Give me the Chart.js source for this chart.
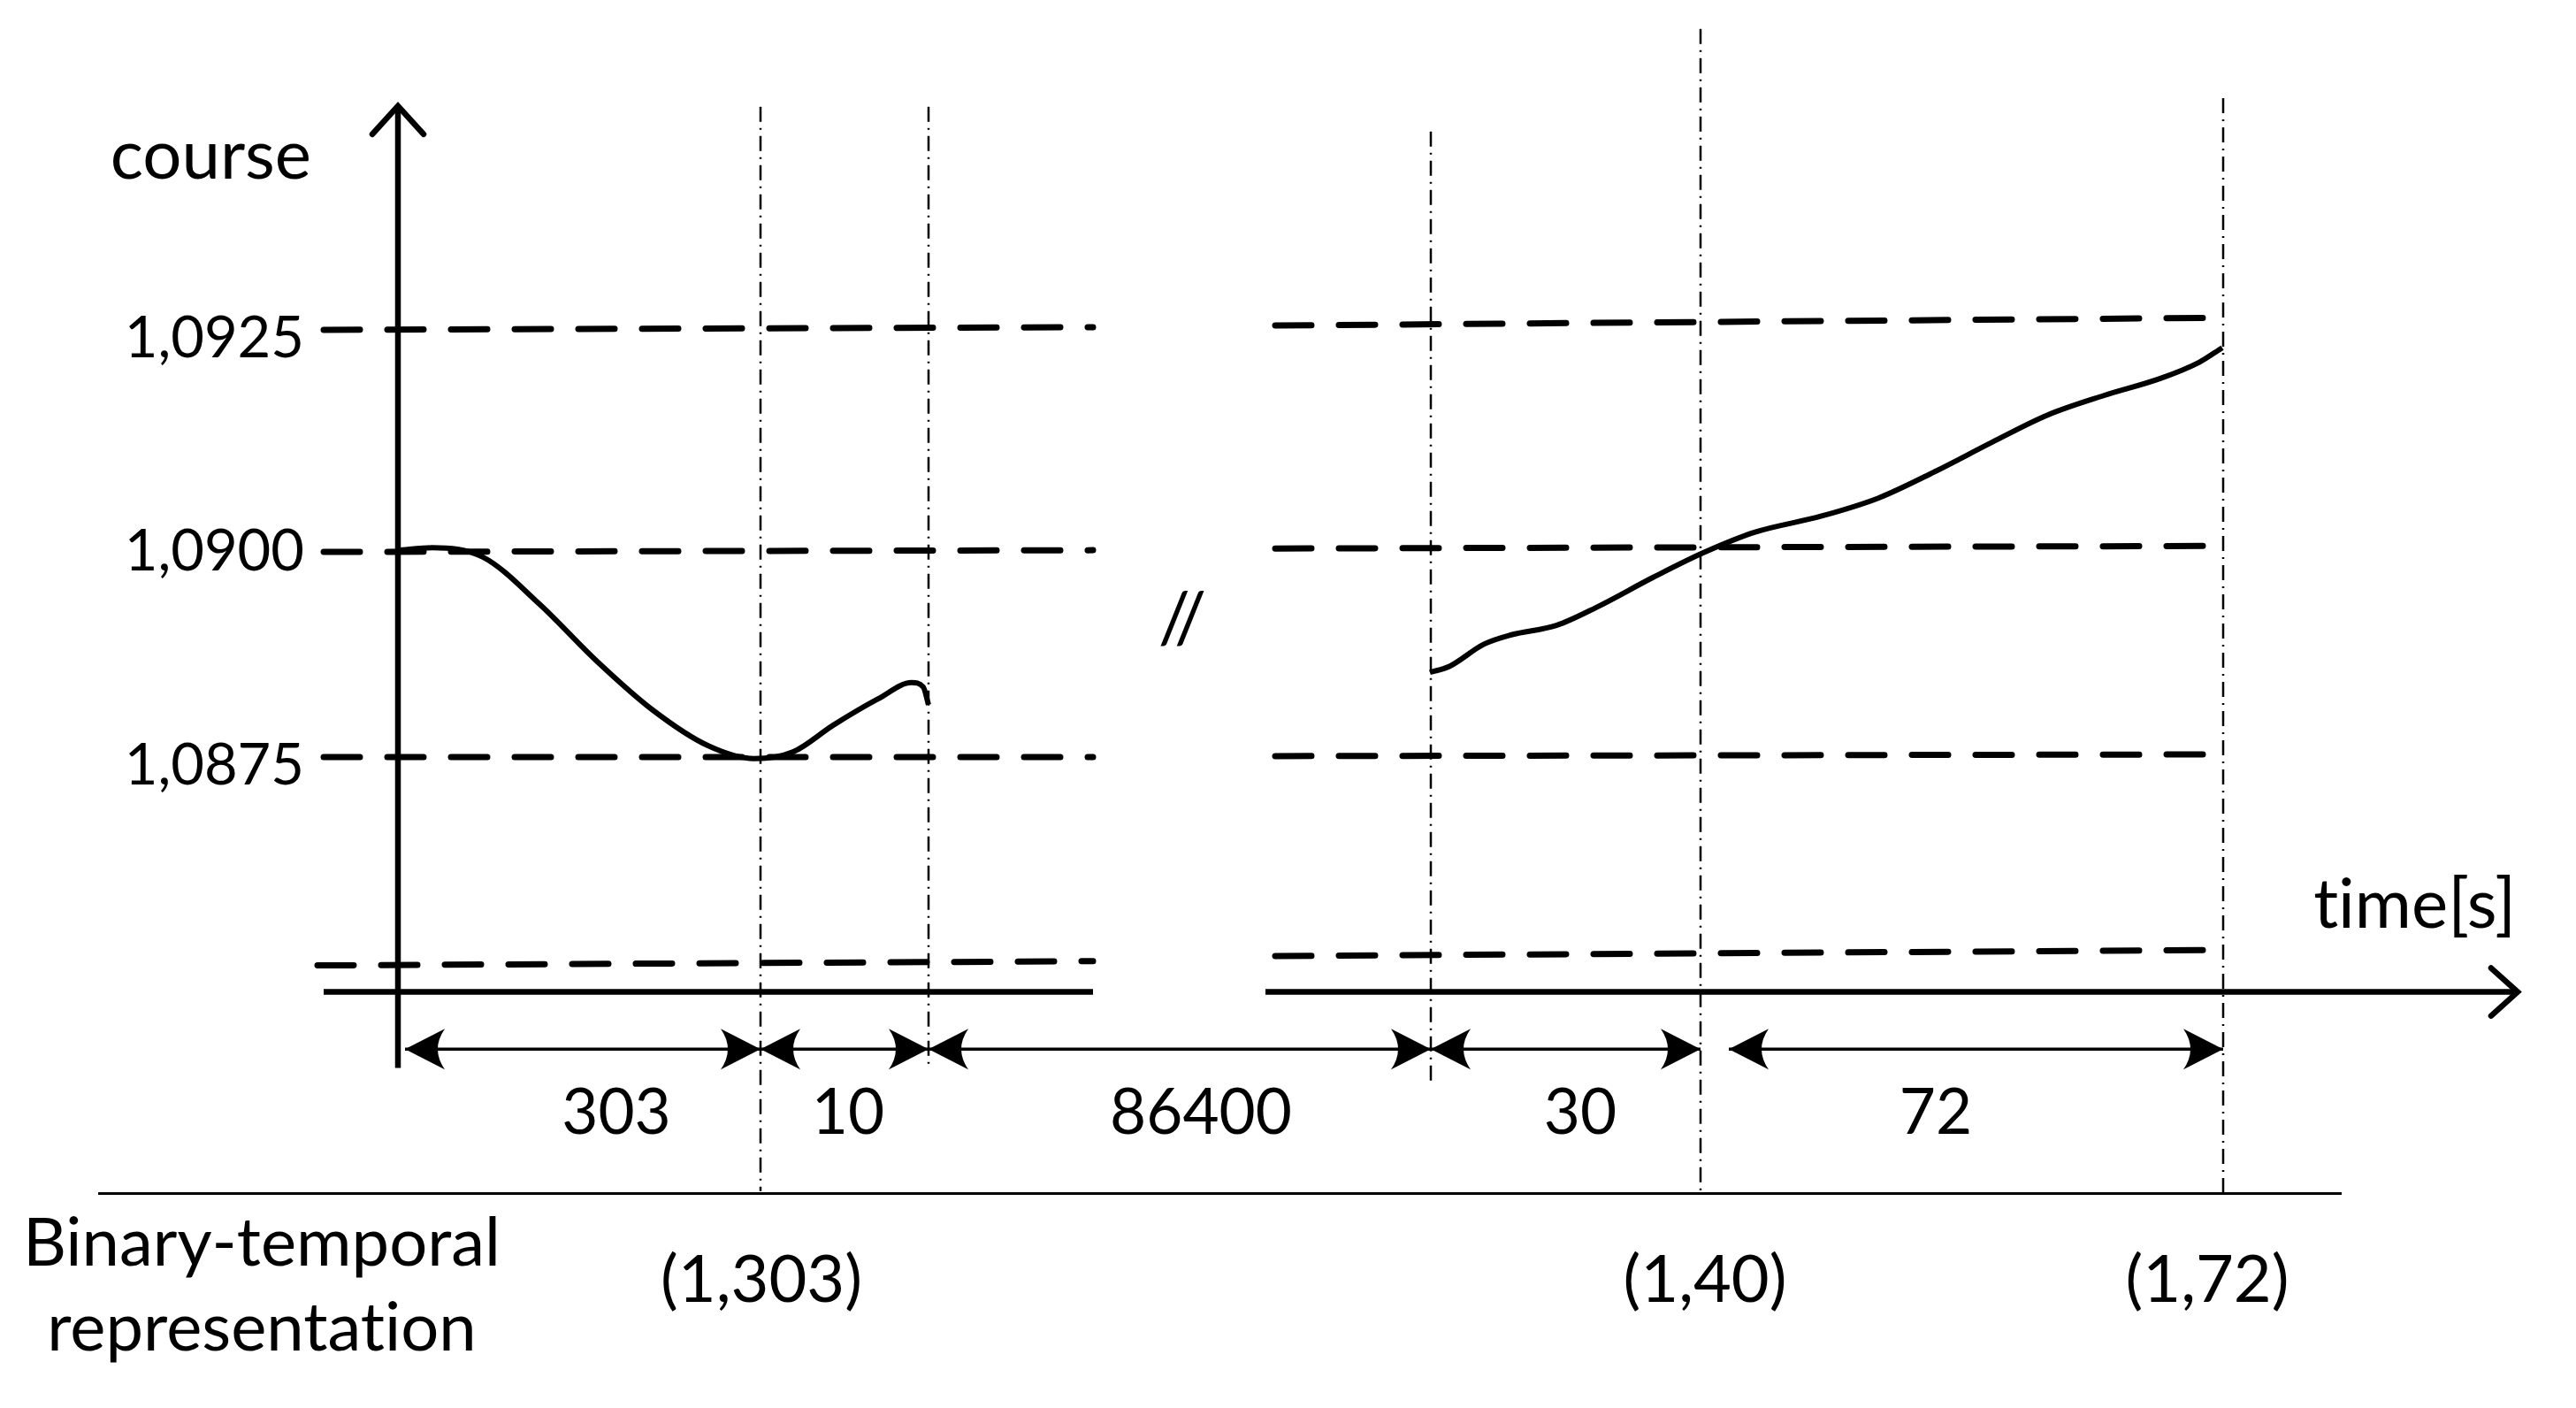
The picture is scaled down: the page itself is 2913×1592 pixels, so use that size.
<!DOCTYPE html>
<html>
<head>
<meta charset="utf-8">
<script src="https://cdn.jsdelivr.net/npm/chart.js@4.4.1/dist/chart.umd.min.js"></script>
<style>
  html, body { margin: 0; padding: 0; background: #fff; }
  #wrap { width: 2913px; height: 1592px; position: relative; }
</style>
</head>
<body>
<div id="wrap"><canvas id="chart"></canvas></div>
<script>
// x is the schematic position along the drawn time axis (not proportional to seconds)
const yTicks = [1.0925, 1.0900, 1.0875];
const tickLabels = ['1,0925', '1,0900', '1,0875'];

// course before the break (303 s + 10 s)
const leftTime = [0, 3.9, 9.6, 16, 22.4, 28.8, 35.1, 40.3, 44.7, 49.2, 54.3, 58.1, 59.4, 60];
const leftCourse = [1.08995, 1.08998, 1.08987, 1.08932, 1.08866, 1.08808, 1.08766, 1.08751, 1.08759, 1.08790, 1.08821, 1.08840, 1.08835, 1.08814];

// course after the break (30 s + 72 s)
const rightTime = [116.7, 118.9, 122.8, 125.9, 131, 135.5, 141.9, 147.6, 153.4, 161, 167.4, 173.8, 180.2, 186.5, 192.9, 199.3, 203.7, 206.3];
const rightCourse = [1.08852, 1.08859, 1.08885, 1.08896, 1.08907, 1.08928, 1.08963, 1.08992, 1.09016, 1.09035, 1.09056, 1.09087, 1.09121, 1.09153, 1.09176, 1.09196, 1.09215, 1.09232];

// dashed levels (hand drawn, so they drift a little)
const levelLeftX = [-8.4, 78.6];
const levelRightX = [99.2, 205.5];
const levelLeftFrom = [1.09253, 1.08993, 1.08753, 1.08509];
const levelLeftTo = [1.09256, 1.08995, 1.08753, 1.08514];
const levelRightFrom = [1.09258, 1.08997, 1.08754, 1.08520];
const levelRightTo = [1.09267, 1.09000, 1.08756, 1.08527];

// event marks (dash-dot verticals)
const markerX = [41, 60, 116.8, 147.3, 206.4];
const markerTop = [1.09514, 1.09514, 1.09485, 1.09605, 1.09524];
const markerBottom = [1.08245, 1.08389, 1.08370, 1.08245, 1.08241];

// axes
const courseAxisTop = 1.09515;
const courseAxisBottom = 1.08389;
const timeAxisLevel = 1.08478;
const timeAxisLeft = [-8.4, 78.6];
const timeAxisRight = [98.1, 239.7];

// durations between events
const spanLevel = 1.08411;
const spanFrom = [0.8, 41, 60, 116.8, 150.5];
const spanTo = [41, 60, 116.8, 147.3, 206.4];
const spanLabels = ['303', '10', '86400', '30', '72'];
const spanLabelAt = [24.7, 50.9, 90.8, 133.7, 173.9];

// binary-temporal row
const separatorLevel = 1.08242;
const separatorX = [-33.9, 219.8];
const binaryLabels = ['(1,303)', '(1,40)', '(1,72)'];
const binaryLabelAt = [41.1, 147.8, 204.6];

const FONT = 'Lato, "Open Sans", sans-serif';
const NOLIG = '\u200C'; // keeps "ti" from turning into a ligature

const line = (pts, width, extra) => ({
  data: pts,
  borderColor: '#000',
  borderWidth: width,
  pointRadius: 0,
  fill: false,
  clip: false,
  tension: 0,
  ...extra
});

const datasets = [];

datasets.push(line(leftTime.map((t, i) => ({ x: t, y: leftCourse[i] })), 6, { cubicInterpolationMode: 'monotone' }));
datasets.push(line(rightTime.map((t, i) => ({ x: t, y: rightCourse[i] })), 6, { cubicInterpolationMode: 'monotone' }));

const dashed = { borderDash: [41, 31], borderCapStyle: 'round' };
levelLeftFrom.forEach((v, i) => {
  datasets.push(line([{ x: levelLeftX[0] - (i === 3 ? 0.7 : 0), y: v }, { x: levelLeftX[1], y: levelLeftTo[i] }], 7, dashed));
  datasets.push(line([{ x: levelRightX[0], y: levelRightFrom[i] }, { x: levelRightX[1], y: levelRightTo[i] }], 7, dashed));
});

markerX.forEach((m, i) => {
  datasets.push(line([{ x: m, y: markerTop[i] }, { x: m, y: markerBottom[i] }], 2.5, { borderDash: [17, 7, 2, 7] }));
});

datasets.push(line([{ x: 0, y: courseAxisBottom }, { x: 0, y: courseAxisTop }], 6.5));
datasets.push(line([{ x: timeAxisLeft[0], y: timeAxisLevel }, { x: timeAxisLeft[1], y: timeAxisLevel }], 6.5));
datasets.push(line([{ x: timeAxisRight[0], y: timeAxisLevel }, { x: timeAxisRight[1], y: timeAxisLevel }], 6.5));

spanFrom.forEach((f, i) => {
  datasets.push(line([{ x: f, y: spanLevel }, { x: spanTo[i], y: spanLevel }], 3.5));
});

datasets.push(line([{ x: separatorX[0], y: separatorLevel }, { x: separatorX[1], y: separatorLevel }], 3));

const sketch = {
  id: 'sketch',
  afterDatasetsDraw(chart) {
    const { ctx, scales: { x, y } } = chart;
    const px = v => x.getPixelForValue(v);
    const py = v => y.getPixelForValue(v);
    ctx.save();
    ctx.fillStyle = '#000';
    ctx.strokeStyle = '#000';

    // open arrow tips of the two axes
    ctx.lineWidth = 6.5;
    ctx.lineCap = 'round';
    ctx.lineJoin = 'miter';
    const ax = px(0), ay = py(courseAxisTop);
    ctx.beginPath();
    ctx.moveTo(ax - 29, ay + 32);
    ctx.lineTo(ax, ay);
    ctx.lineTo(ax + 29, ay + 32);
    ctx.stroke();
    const tx = px(timeAxisRight[1]), ty = py(timeAxisLevel);
    ctx.beginPath();
    ctx.moveTo(tx - 30, ty - 27);
    ctx.lineTo(tx, ty);
    ctx.lineTo(tx - 30, ty + 27);
    ctx.stroke();

    // filled dimension arrow heads
    const head = (xt, yt, dir) => {
      ctx.beginPath();
      ctx.moveTo(xt, yt);
      ctx.lineTo(xt - dir * 45, yt - 23);
      ctx.quadraticCurveTo(xt - dir * 29, yt, xt - dir * 45, yt + 23);
      ctx.closePath();
      ctx.fill();
    };
    const sy = py(spanLevel);
    spanFrom.forEach((f, i) => {
      head(px(f), sy, -1);
      head(px(spanTo[i]), sy, 1);
    });

    ctx.textBaseline = 'alphabetic';
    ctx.font = `78px ${FONT}`;
    ctx.textAlign = 'right';
    ctx.fillText('course', px(0) - 98, 202);
    ctx.fillText(`t${NOLIG}ime[s]`, 2845, 1049);

    ctx.textAlign = 'center';
    ctx.font = `71px ${FONT}`;
    spanLabels.forEach((s, i) => ctx.fillText(s, px(spanLabelAt[i]), 1282));

    ctx.font = `74px ${FONT}`;
    binaryLabels.forEach((s, i) => ctx.fillText(s, px(binaryLabelAt[i]), 1472));

    ctx.font = `76px ${FONT}`;
    ctx.fillText('Binary-temporal', 296, 1431);
    ctx.fillText(`representat${NOLIG}ion`, 296, 1527);

    ctx.font = `80px ${FONT}`;
    ctx.textBaseline = 'middle';
    ctx.fillText('//', 1337, 700);
    ctx.restore();
  }
};

new Chart(document.getElementById('chart'), {
  type: 'line',
  data: { datasets },
  plugins: [sketch],
  options: {
    responsive: true,
    maintainAspectRatio: false,
    animation: false,
    events: [],
    layout: { padding: 0 },
    plugins: { legend: { display: false }, tooltip: { enabled: false } },
    scales: {
      x: {
        type: 'linear',
        display: false,
        min: -8.4,
        max: 246.3,
        ticks: { display: false },
        afterFit(scale) { scale.height = 0; scale.paddingLeft = 0; scale.paddingRight = 0; }
      },
      y: {
        type: 'linear',
        min: 1.07991,
        max: 1.09639,
        grid: { display: false, drawTicks: false },
        border: { display: false },
        afterBuildTicks(scale) { scale.ticks = yTicks.map(v => ({ value: v })); },
        afterFit(scale) { scale.width = 366; scale.paddingTop = 0; scale.paddingBottom = 0; },
        ticks: {
          color: '#000',
          padding: 22,
          labelOffset: 7,
          font: { family: FONT, size: 65 },
          callback: v => tickLabels[yTicks.indexOf(v)]
        }
      }
    }
  }
});
</script>
</body>
</html>
